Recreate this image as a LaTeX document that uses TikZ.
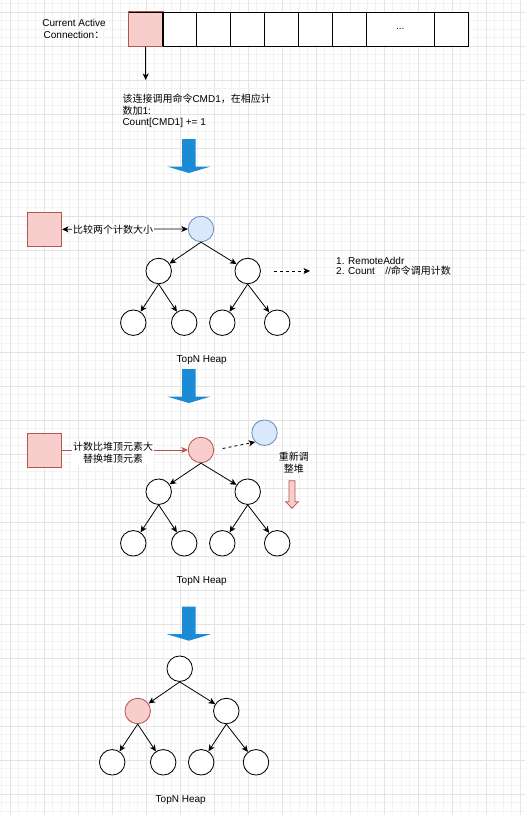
\documentclass[tikz,border=0pt]{standalone}
\usepackage{fontspec}
\setmainfont{Liberation Sans}
\newfontfamily\cjk{Noto Sans CJK SC}
\newcommand\zh[1]{{\cjk #1}}
\usetikzlibrary{arrows.meta,calc}

\definecolor{pinkfill}{HTML}{F8CECC}
\definecolor{pinkline}{HTML}{B85450}
\definecolor{bluefill}{HTML}{DAE8FC}
\definecolor{blueline}{HTML}{6C8EBF}
\definecolor{bigblue}{RGB}{28,139,214}
\definecolor{gridminor}{HTML}{F3F3F3}
\definecolor{gridmajor}{HTML}{E4E4E4}

\begin{document}
\begin{tikzpicture}[x=1pt,y=-1pt,
  every node/.style={font=\fontsize{10}{12}\selectfont, inner sep=0pt},
  hn/.style={circle, draw=black, line width=0.85pt, minimum size=25.5pt, fill=white},
  hblue/.style={hn, fill=bluefill, draw=blueline},
  hpink/.style={hn, fill=pinkfill, draw=pinkline},
  cell/.style={draw=black, line width=0.85pt, minimum height=34pt, minimum width=34pt, fill=white},
  sq/.style={draw=pinkline, fill=pinkfill, line width=0.85pt, minimum size=34pt},
  tip/.style={-{Stealth[length=6.5pt,width=6pt,inset=1.8pt]}},
  tedge/.style={tip, draw=black, line width=0.8pt},
  dedge/.style={tedge, dashed, dash pattern=on 3pt off 3pt},
  lbl/.style={fill=white, inner sep=1pt, align=center},
  bigarrow/.pic={
    \fill[bigblue] (-6.85,0) -- (6.85,0) -- (6.85,27.5) -- (21.85,27.5)
      -- (0,34) -- (-21.85,27.5) -- (-6.85,27.5) -- cycle;
  }
]
% canvas and grid
\fill[white] (0,0) rectangle (525,815);
\useasboundingbox (0,0) rectangle (525,815);
\foreach \k in {0,...,61} \draw[gridminor, line width=0.8pt] (1.5+8.5*\k,0) -- (1.5+8.5*\k,815);
\foreach \k in {0,...,95} \draw[gridminor, line width=0.8pt] (0,3.5+8.5*\k) -- (525,3.5+8.5*\k);
\foreach \k in {0,...,15} \draw[gridmajor, line width=0.8pt] (10+34*\k,0) -- (10+34*\k,815);
\foreach \k in {0,...,23} \draw[gridmajor, line width=0.8pt] (0,12+34*\k) -- (525,12+34*\k);

% connection array
\node[align=center] (cur) at (74,29.2) {Current Active\\Connection\zh{：}};
\node[cell, fill=pinkfill, draw=black] (c1) at (145.7,29.2) {};
\node[cell] (c2) at (179.7,29.2) {};
\node[cell] (c3) at (213.7,29.2) {};
\node[cell] (c4) at (247.7,29.2) {};
\node[cell] (c5) at (281.7,29.2) {};
\node[cell] (c6) at (315.7,29.2) {};
\node[cell] (c7) at (349.7,29.2) {};
\node[cell, minimum width=67.3pt] (c8) at (400.35,29.2) {...};
\node[cell] (c9) at (451,29.2) {};
\draw[line width=0.85pt, pinkline] (c1.north west) rectangle (c1.south east);
\draw[line width=0.85pt] (c1.north east) -- (c1.south east);

\coordinate (c1end) at (145.7,80);
\draw[tedge] (c1.south) -- (c1end);
\node[anchor=west, align=left, font=\fontsize{10}{11.8}\selectfont] (inc) at (122.3,110.9)
  {\zh{该连接调用命令}CMD1\zh{，在相应计}\\\zh{数加}1:\\Count[CMD1] += 1};

\pic at (188.85,139) {bigarrow};

% first heap: compare with the top
\node[sq] (s1) at (44.65,229.35) {};
\node[hblue] (r1) at (201,229) {};
\node[hn] (a1) at (158.7,271) {};
\node[hn] (b1) at (247.7,271) {};
\node[hn] (aa1) at (133.3,322.7) {};
\node[hn] (ab1) at (184.2,322.7) {};
\node[hn] (ba1) at (222.3,322.7) {};
\node[hn] (bb1) at (277.2,322.7) {};
\draw[tedge, {Stealth[length=6.5pt,width=6pt,inset=1.8pt]}-{Stealth[length=6.5pt,width=6pt,inset=1.8pt]}]
  (s1.east) -- node[lbl, pos=0.406, font=\cjk] (cmp) {比较两个计数大小} (r1.west);
\draw[tedge] (r1.south) -- (a1);
\draw[tedge] (r1.south) -- (b1);
\draw[tedge] (a1.south) -- (aa1);
\draw[tedge] (a1.south) -- (ab1);
\draw[tedge] (b1.south) -- (ba1);
\draw[tedge] (b1.south) -- (bb1);
\coordinate (fieldsend) at (310,271);
\draw[dedge] ($(b1.east)+(13,0)$) -- (fieldsend);
\node[anchor=west, align=left, font=\fontsize{10}{10.8}\selectfont] (fields) at (336,266.3)
  {1. RemoteAddr\\2. Count\hspace{10.5pt}//\zh{命令调用计数}};
\node (h1) at (201.7,360.3) {TopN Heap};

\pic at (188.85,369) {bigarrow};

% second heap: replace the top
\node[sq] (s2) at (44.65,450) {};
\node[hpink] (r2) at (201,450) {};
\node[hblue] (old) at (264.5,432.7) {};
\node[hn] (a2) at (158.7,491.7) {};
\node[hn] (b2) at (247.7,491.7) {};
\node[hn] (aa2) at (133.3,543.3) {};
\node[hn] (ab2) at (184.2,543.3) {};
\node[hn] (ba2) at (222.3,543.3) {};
\node[hn] (bb2) at (277.2,543.3) {};
\draw[tedge, draw=pinkline, -{Stealth[length=6.5pt,width=6pt,inset=1.8pt,fill=pinkline]}]
  (s2.east) -- node[lbl, pos=0.406, yshift=-2.8pt, font=\cjk\fontsize{10}{12.3}\selectfont] (rep)
  {计数比堆顶元素大\\替换堆顶元素} (r2.west);
\draw[dedge] ($(r2.east)+(8.5,-1.5)$) -- (old.south west);
\draw[tedge] (r2.south) -- (a2);
\draw[tedge] (r2.south) -- (b2);
\draw[tedge] (a2.south) -- (aa2);
\draw[tedge] (a2.south) -- (ab2);
\draw[tedge] (b2.south) -- (ba2);
\draw[tedge] (b2.south) -- (bb2);
\node[align=center, font=\cjk\fontsize{10}{11.6}\selectfont] (adj) at (293.8,462.5) {重新调\\整堆};
\draw[fill=pinkfill, draw=pinkline, line width=0.75pt]
  (289,480.7) -- (295,480.7) -- (295,501.7) -- (298.3,501.7) -- (292,508.3)
  -- (285.7,501.7) -- (289,501.7) -- cycle;
\node (h2) at (201.7,581.3) {TopN Heap};

\pic at (188.85,606.7) {bigarrow};

% third heap: after sifting down
\node[hn] (r3) at (179.7,668.7) {};
\node[hpink] (a3) at (137.7,711) {};
\node[hn] (b3) at (226.3,711) {};
\node[hn] (aa3) at (112.2,762.3) {};
\node[hn] (ab3) at (163.2,762.3) {};
\node[hn] (ba3) at (201.2,762.3) {};
\node[hn] (bb3) at (256,762.3) {};
\draw[tedge] (r3.south) -- (a3);
\draw[tedge] (r3.south) -- (b3);
\draw[tedge] (a3.south) -- (aa3);
\draw[tedge] (a3.south) -- (ab3);
\draw[tedge] (b3.south) -- (ba3);
\draw[tedge] (b3.south) -- (bb3);
\node (h3) at (180.7,800.3) {TopN Heap};
\end{tikzpicture}
\end{document}
